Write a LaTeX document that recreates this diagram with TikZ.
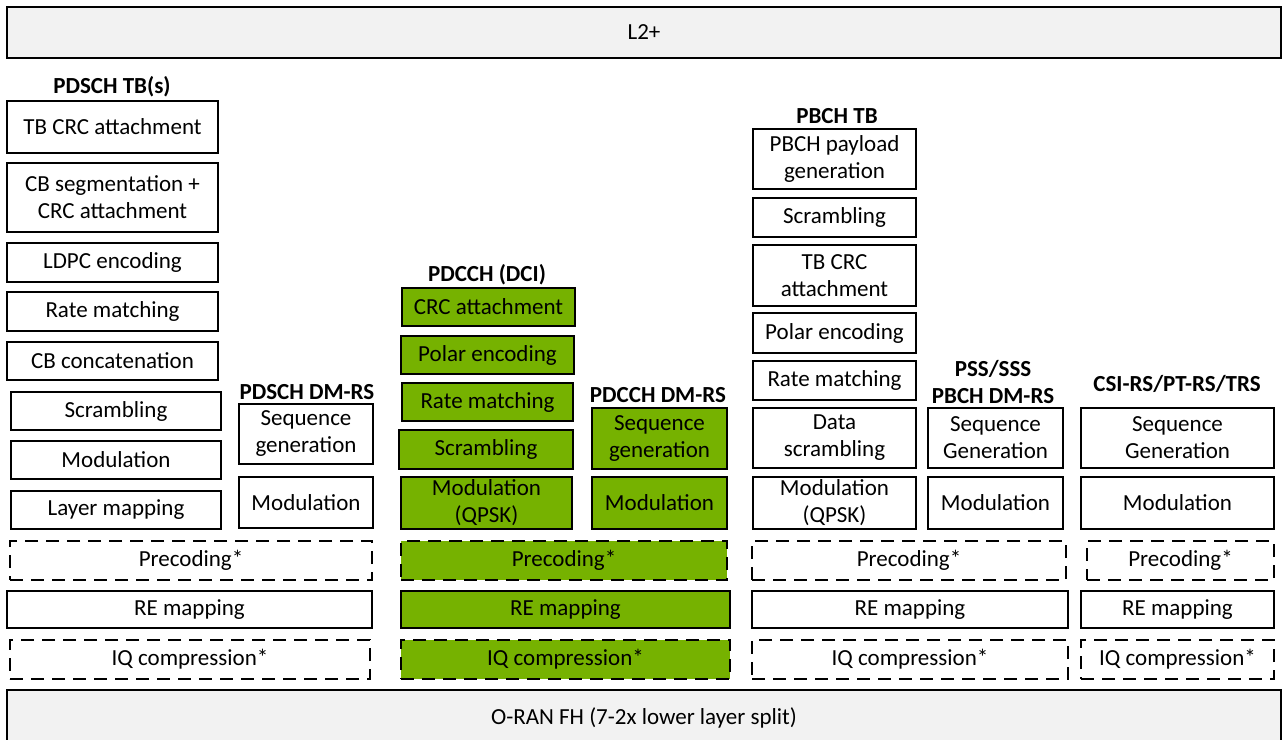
\documentclass[tikz,border=0pt]{standalone}
\usepackage{fontspec}
\setmainfont{Carlito}
\definecolor{nvgreen}{RGB}{118,178,0}
\definecolor{bargray}{RGB}{242,242,242}
% a processing block spanning the rectangle (#3,#4) -- (#5,#6), in pixel units
\newcommand{\blockat}[7]{%
  \pgfmathsetmacro\bxc{(#3+#5)/2}%
  \pgfmathsetmacro\byc{(#4+#6)/2}%
  \pgfmathsetmacro\bw{(#5-#3)*0.5}%
  \pgfmathsetmacro\bh{(#6-#4)*0.5}%
  \node[#1, minimum width=\bw pt, minimum height=\bh pt] (#2) at (\bxc,\byc) {#7};}
\begin{document}
\begin{tikzpicture}[x=0.5pt,y=-0.5pt,
  every node/.style={font=\fontsize{11.5}{13.5}\selectfont, align=center, inner sep=0pt, outer sep=0pt},
  blk/.style={draw=black, line width=1pt, fill=white},
  grn/.style={blk, fill=nvgreen},
  opt/.style={dash pattern=on 6.5pt off 4pt},
  bar/.style={draw=black, line width=0.7pt, fill=bargray},
  ttl/.style={font=\fontsize{11.5}{13.5}\selectfont\bfseries}]
\useasboundingbox (0,0) rectangle (1287,740);

% layer bars
\blockat{bar}{l2}{7}{7}{1281}{58}{L2+}
\blockat{bar}{fh}{7}{690}{1281}{746}{O-RAN FH (7-2x lower layer split)}

% PDSCH TB(s)
\node[ttl] (tpdsch) at (112,87) {PDSCH TB(s)};
\blockat{blk}{a1}{7}{101}{218}{153}{TB CRC attachment}
\blockat{blk}{a2}{7}{163}{218}{232}{CB segmentation +\\CRC attachment}
\blockat{blk}{a3}{7}{243}{218}{282}{LDPC encoding}
\blockat{blk}{a4}{7}{292}{218}{331}{Rate matching}
\blockat{blk}{a5}{7}{342}{218}{380}{CB concatenation}
\blockat{blk}{a6}{11}{392}{221}{430}{Scrambling}
\blockat{blk}{a7}{11}{441}{221}{479}{Modulation}
\blockat{blk}{a8}{11}{491}{221}{529}{Layer mapping}

% PDSCH DM-RS
\node[ttl] (tdmrs) at (307,392) {PDSCH DM-RS};
\blockat{blk}{b1}{239}{404}{373}{464}{Sequence\\generation}
\blockat{blk}{b2}{239}{477}{373}{528}{Modulation}

% PDCCH (DCI)
\node[ttl] (tpdcch) at (487,275) {PDCCH (DCI)};
\blockat{grn}{c1}{402}{288}{575}{326}{CRC attachment}
\blockat{grn}{c2}{401}{336}{574}{374}{Polar encoding}
\blockat{grn}{c3}{402}{383}{573}{421}{Rate matching}
\blockat{grn}{c4}{399}{430}{573}{469}{Scrambling}
\blockat{grn}{c5}{401}{477}{572}{529}{Modulation\\(QPSK)}

% PDCCH DM-RS
\node[ttl] (tpdcchdm) at (658,395) {PDCCH DM-RS};
\blockat{grn}{d1}{592}{408}{727}{469}{Sequence\\generation}
\blockat{grn}{d2}{592}{477}{727}{529}{Modulation}

% PBCH TB
\node[ttl] (tpbch) at (837,116) {PBCH TB};
\blockat{blk}{e1}{753}{129}{916}{189}{PBCH payload\\generation}
\blockat{blk}{e2}{753}{198}{916}{237}{Scrambling}
\blockat{blk}{e3}{753}{245}{916}{306}{TB CRC\\attachment}
\blockat{blk}{e4}{753}{313}{916}{353}{Polar encoding}
\blockat{blk}{e5}{753}{361}{916}{400}{Rate matching}
\blockat{blk}{e6}{753}{408}{916}{468}{Data\\scrambling}
\blockat{blk}{e7}{753}{477}{916}{529}{Modulation\\(QPSK)}

% PSS/SSS, PBCH DM-RS
\node[ttl] (tpss) at (993,382) {PSS/SSS\\PBCH DM-RS};
\blockat{blk}{f1}{928}{408}{1063}{468}{Sequence\\Generation}
\blockat{blk}{f2}{928}{477}{1063}{529}{Modulation}

% CSI-RS/PT-RS/TRS
\node[ttl] (tcsi) at (1177,384) {CSI-RS/PT-RS/TRS};
\blockat{blk}{g1}{1081}{408}{1274}{468}{Sequence\\Generation}
\blockat{blk}{g2}{1081}{477}{1274}{529}{Modulation}

% shared lower stages
\blockat{blk,opt}{p1}{10}{541}{372}{580}{Precoding*}
\blockat{blk}{r1}{7}{591}{372}{628}{RE mapping}
\blockat{blk,opt}{q1}{10}{640}{370}{679}{IQ compression*}

\blockat{grn,opt}{p2}{401}{541}{727}{580}{Precoding*}
\blockat{grn}{r2}{401}{591}{730}{628}{RE mapping}
\blockat{grn,opt}{q2}{401}{640}{730}{679}{IQ compression*}

\blockat{blk,opt}{p3}{752}{541}{1066}{580}{Precoding*}
\blockat{blk}{r3}{752}{591}{1068}{628}{RE mapping}
\blockat{blk,opt}{q3}{752}{640}{1068}{679}{IQ compression*}

\blockat{blk,opt}{p4}{1087}{541}{1274}{580}{Precoding*}
\blockat{blk}{r4}{1081}{591}{1274}{628}{RE mapping}
\blockat{blk,opt}{q4}{1081}{640}{1274}{679}{IQ compression*}
\end{tikzpicture}
\end{document}
